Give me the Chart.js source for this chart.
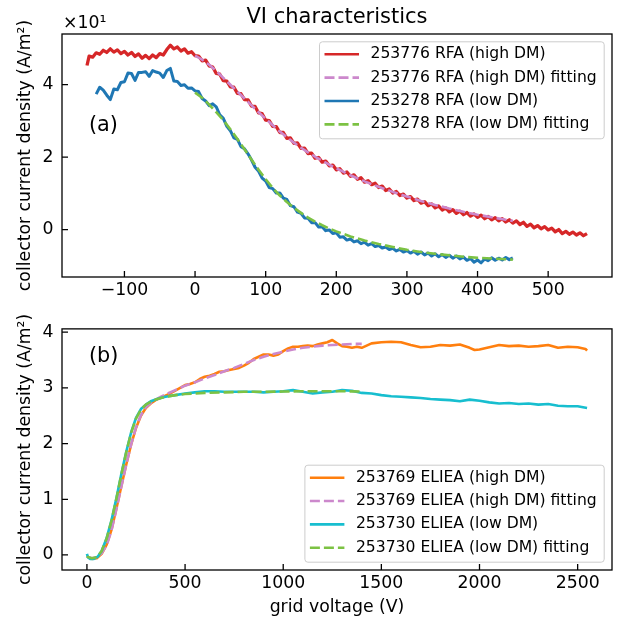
<!DOCTYPE html>
<html>
<head>
<meta charset="utf-8">
<title>VI characteristics</title>
<script src="https://cdn.jsdelivr.net/npm/chart.js@4.4.0/dist/chart.umd.min.js"></script>
<style>
  html, body { margin: 0; padding: 0; background: #fff; }
  #wrap { position: relative; width: 620px; height: 622px; }
  .panel { position: absolute; left: 0; width: 620px; }
  #top { top: 0; height: 310px; }
  #bottom { top: 310px; height: 312px; }
</style>
</head>
<body>
<div id="wrap">
  <div class="panel" id="top"><canvas id="rfa" width="620" height="310"></canvas></div>
  <div class="panel" id="bottom"><canvas id="eliea" width="620" height="312"></canvas></div>
</div>
<script>
// (a) RFA, current density in A/m^2 (axis shows it x10^1)
const rfaHighX = [-153, -150, -145, -140, -135, -130, -125, -120, -115, -110, -105, -100, -95, -90, -85, -80, -75, -70, -65, -60, -55, -50, -45, -40, -35, -30, -25, -20, -15, -10, -5,
  0, 5, 10, 15, 20, 25, 30, 35, 40, 45, 50, 55, 60, 65, 70, 75, 80, 85, 90, 95, 100, 105, 110, 115, 120, 125, 130, 135, 140, 145, 150, 155, 160, 165, 170, 175, 180, 185, 190, 195,
  200, 205, 210, 215, 220, 225, 230, 235, 240, 245, 250, 255, 260, 265, 270, 275, 280, 285, 290, 295, 300, 305, 310, 315, 320, 325, 330, 335, 340, 345, 350, 355, 360, 365, 370, 375,
  380, 385, 390, 395, 400, 405, 410, 415, 420, 425, 430, 435, 440, 445, 450, 455, 460, 465, 470, 475, 480, 485, 490, 495, 500, 505, 510, 515, 520, 525, 530, 535, 540, 545, 550, 555];
const rfaHighY = [45.3, 47.9, 47.6, 48.8, 48.4, 49.5, 48.9, 49.9, 49.0, 49.6, 48.6, 49.2, 48.2, 48.9, 47.8, 48.5, 47.3, 48.1, 47.2, 48.2, 47.5, 48.6, 48.2, 49.7, 50.9, 49.9, 50.4, 49.3, 49.9, 48.7, 49.1,
  48.0, 47.9, 46.6, 46.8, 45.2, 44.9, 43.1, 42.9, 41.1, 41.0, 39.4, 39.3, 37.6, 37.5, 35.9, 35.8, 34.1, 34.0, 32.2, 32.0, 30.2, 30.1, 28.5, 28.4, 26.8, 26.8, 25.2, 25.3, 23.8, 23.9, 22.4, 22.5, 21.0, 21.1, 19.7, 19.9, 18.6, 18.9, 17.6, 17.8,
  16.5, 16.8, 15.6, 15.9, 14.7, 15.1, 13.9, 14.3, 13.1, 13.5, 12.4, 12.8, 11.6, 12.0, 10.8, 11.2, 10.1, 10.5, 9.4, 9.8, 8.7, 9.1, 8.0, 8.4, 7.3, 7.7, 6.6, 7.1, 6.0, 6.5, 5.4, 6.0, 4.9, 5.5, 4.5, 5.1,
  4.1, 4.7, 3.7, 4.3, 3.4, 4.0, 3.0, 3.6, 2.7, 3.3, 2.4, 3.0, 2.1, 2.7, 1.8, 2.4, 1.4, 2.0, 0.9, 1.5, 0.5, 1.1, 0.2, 0.8, -0.1, 0.4, -0.6, 0.0, -1.1, -0.5, -1.3, -0.7, -1.5, -0.9, -1.7, -1.1];

const rfaHighFitX = [0, 10, 20, 30, 40, 50, 60, 70, 80, 90, 100, 110, 120, 130, 140, 150, 160, 170, 180, 190, 200, 220, 240, 260, 280, 300, 320, 340, 360, 380, 400, 420, 440, 450];
const rfaHighFitY = [48.0, 46.9, 45.5, 43.8, 41.9, 40.0, 38.1, 36.2, 34.3, 32.4, 30.6, 28.8, 27.1, 25.5, 24.0, 22.6, 21.3, 20.1, 19.0, 17.9, 16.9, 15.0, 13.3, 11.8, 10.4, 9.1, 7.9, 6.8, 5.8, 4.9, 4.1, 3.4, 2.7, 2.4];

const rfaLowX = [-140, -135, -130, -125, -120, -115, -110, -105, -100, -95, -90, -85, -80, -75, -70, -65, -60, -55, -50, -45, -40, -35, -30, -25, -20, -15, -10, -5,
  0, 5, 10, 15, 20, 25, 30, 35, 40, 45, 50, 55, 60, 65, 70, 75, 80, 85, 90, 95, 100, 105, 110, 115, 120, 125, 130, 135, 140, 145, 150, 155, 160, 165, 170, 175, 180, 185, 190, 195,
  200, 205, 210, 215, 220, 225, 230, 235, 240, 245, 250, 255, 260, 265, 270, 275, 280, 285, 290, 295, 300, 305, 310, 315, 320, 325, 330, 335, 340, 345, 350, 355, 360, 365, 370, 375,
  380, 385, 390, 395, 400, 405, 410, 415, 420, 425, 430, 435, 440, 445, 450];
const rfaLowY = [37.4, 39.3, 38.5, 37.1, 35.9, 38.8, 38.6, 40.6, 40.8, 43.2, 43.1, 41.2, 43.4, 43.4, 43.6, 42.3, 43.9, 43.5, 43.2, 42.0, 43.9, 44.5, 41.0, 40.9, 39.8, 40.0, 39.0, 39.1,
  38.3, 38.1, 36.2, 35.5, 34.2, 34.7, 33.9, 31.7, 30.7, 28.5, 27.3, 25.3, 24.9, 22.9, 22.3, 20.9, 19.2, 17.2, 16.1, 14.2, 13.4, 11.6, 11.3, 10.1, 10.1, 8.7, 8.3, 6.6, 6.3, 4.8, 4.5, 3.2, 3.1, 1.9, 1.9, 0.7, 0.8, -0.3, -0.1, -1.1,
  -0.9, -2.1, -2.0, -2.9, -2.6, -3.4, -3.1, -3.9, -3.5, -4.3, -3.9, -4.7, -4.4, -5.1, -4.8, -5.5, -5.2, -5.9, -5.5, -6.2, -5.8, -6.5, -6.0, -6.8, -6.2, -7.0, -6.5, -7.3, -6.7, -7.5, -6.9, -7.7, -7.1, -7.9, -7.3, -8.1,
  -7.6, -8.5, -8.0, -9.0, -8.4, -9.2, -8.1, -8.6, -7.8, -8.5, -7.9, -8.4, -7.7, -8.3, -7.8];

const rfaLowFitX = [0, 10, 20, 30, 40, 50, 60, 70, 80, 90, 100, 110, 120, 130, 140, 150, 160, 170, 180, 190, 200, 220, 240, 260, 280, 300, 320, 340, 360, 380, 400, 420, 450];
const rfaLowFitY = [37.8, 36.4, 34.5, 32.4, 30.2, 27.7, 25.0, 22.2, 19.3, 16.5, 13.9, 11.5, 9.4, 7.6, 6.0, 4.6, 3.3, 2.2, 1.2, 0.3, -0.5, -1.9, -3.0, -4.0, -4.8, -5.6, -6.2, -6.7, -7.1, -7.5, -7.8, -8.0, -8.3];

// (b) ELIEA, current density in A/m^2
const elieaHighX = [0, 10, 25, 50, 75, 100, 125, 150, 175, 200, 225, 250, 275, 300, 325, 350, 375, 400, 425, 450, 475, 500, 525, 550, 575, 600, 625, 650, 675, 700, 725, 750, 775, 800, 825, 850, 875, 900, 925, 950, 975,
  1000, 1025, 1050, 1075, 1100, 1125, 1150, 1175, 1200, 1225, 1250, 1275, 1300, 1325, 1350, 1375, 1400, 1425, 1450, 1500, 1550, 1600, 1650, 1700, 1750, 1800, 1850, 1900, 1950, 1975,
  2000, 2050, 2100, 2150, 2200, 2250, 2300, 2350, 2400, 2450, 2500, 2540, 2548];
const elieaHighY = [-0.02, -0.05, -0.07, -0.06, 0.02, 0.18, 0.45, 0.83, 1.23, 1.62, 1.98, 2.28, 2.5, 2.64, 2.72, 2.78, 2.82, 2.86, 2.9, 2.95, 3.0, 3.05, 3.07, 3.1, 3.16, 3.2, 3.22, 3.25, 3.29, 3.3, 3.32, 3.34, 3.36, 3.4, 3.45, 3.52, 3.56, 3.6, 3.6, 3.58, 3.6,
  3.66, 3.71, 3.74, 3.74, 3.75, 3.76, 3.75, 3.78, 3.8, 3.82, 3.86, 3.8, 3.75, 3.74, 3.72, 3.74, 3.72, 3.76, 3.8, 3.82, 3.83, 3.82, 3.77, 3.73, 3.74, 3.77, 3.76, 3.78, 3.72, 3.68,
  3.69, 3.73, 3.77, 3.75, 3.76, 3.74, 3.75, 3.77, 3.72, 3.74, 3.73, 3.7, 3.67];

const elieaHighFitX = [0, 25, 50, 75, 100, 125, 150, 175, 200, 225, 250, 275, 300, 325, 350, 375, 400, 450, 500, 550, 600, 650, 700, 750, 800, 850, 900, 950, 1000, 1050, 1100, 1150, 1200, 1250, 1300, 1350, 1400];
const elieaHighFitY = [-0.03, -0.06, -0.04, 0.03, 0.17, 0.44, 0.82, 1.22, 1.62, 1.98, 2.29, 2.51, 2.65, 2.73, 2.79, 2.84, 2.88, 2.96, 3.04, 3.1, 3.17, 3.23, 3.3, 3.36, 3.43, 3.5, 3.56, 3.61, 3.65, 3.69, 3.72, 3.74, 3.76, 3.77, 3.78, 3.79, 3.79];

const elieaLowX = [0, 5, 15, 35, 55, 75, 100, 125, 150, 175, 200, 225, 250, 275, 300, 325, 350, 375, 400, 450, 500, 550, 600, 650, 700, 750, 800, 850, 900, 950,
  1000, 1050, 1100, 1150, 1200, 1250, 1300, 1350, 1400, 1450, 1500, 1550, 1600, 1650, 1700, 1750, 1800, 1850, 1900, 1950,
  2000, 2050, 2100, 2150, 2200, 2250, 2300, 2350, 2400, 2450, 2500, 2548];
const elieaLowY = [0.02, -0.04, -0.07, -0.07, -0.03, 0.07, 0.3, 0.62, 1.02, 1.45, 1.85, 2.2, 2.46, 2.62, 2.7, 2.76, 2.79, 2.82, 2.84, 2.87, 2.9, 2.92, 2.94, 2.94, 2.93, 2.93, 2.93, 2.93, 2.92, 2.93,
  2.94, 2.96, 2.93, 2.9, 2.92, 2.93, 2.96, 2.95, 2.91, 2.9, 2.87, 2.85, 2.84, 2.83, 2.82, 2.8, 2.79, 2.78, 2.76, 2.79,
  2.77, 2.74, 2.72, 2.73, 2.71, 2.72, 2.7, 2.71, 2.68, 2.67, 2.67, 2.64];

const elieaLowFitX = [0, 25, 50, 75, 100, 125, 150, 175, 200, 225, 250, 275, 300, 325, 350, 400, 450, 500, 600, 700, 800, 900, 1000, 1100, 1200, 1300, 1400];
const elieaLowFitY = [-0.03, -0.06, -0.04, 0.07, 0.29, 0.61, 1.01, 1.44, 1.84, 2.19, 2.45, 2.61, 2.7, 2.75, 2.79, 2.84, 2.87, 2.89, 2.91, 2.92, 2.93, 2.93, 2.935, 2.94, 2.94, 2.94, 2.935];

const rfaXTicks = [-100, 0, 100, 200, 300, 400, 500];
const rfaYTicks = [0, 20, 40];
const elieaXTicks = [0, 500, 1000, 1500, 2000, 2500];
const elieaYTicks = [0, 1, 2, 3, 4];

const rfaLabels = ["253776 RFA (high DM)", "253776 RFA (high DM) fitting", "253278 RFA (low DM)", "253278 RFA (low DM) fitting"];
const elieaLabels = ["253769 ELIEA (high DM)", "253769 ELIEA (high DM) fitting", "253730 ELIEA (low DM)", "253730 ELIEA (low DM) fitting"];

const FONT = "DejaVu Sans";
const tickFont = { family: FONT, size: 17.3 };

function pts(xs, ys) {
  return xs.map((x, i) => ({ x: x, y: ys[i] }));
}

function line(label, xs, ys, color, dashed, order, width) {
  return {
    label: label,
    data: pts(xs, ys),
    borderColor: color,
    backgroundColor: color,
    borderWidth: width || 2.6,
    borderDash: dashed ? [10, 4] : [],
    borderJoinStyle: "round",
    pointRadius: 0,
    showLine: true,
    fill: false,
    tension: 0,
    order: order,
  };
}

function minus(v) {
  return v < 0 ? "\u2212" + Math.abs(v) : String(v);
}

function axes(xRange, yRange, xTicks, yTicks, yFmt, xHeight, xTitle) {
  return {
    x: {
      type: "linear",
      min: xRange[0],
      max: xRange[1],
      afterBuildTicks: (s) => { s.ticks = xTicks.map((v) => ({ value: v })); },
      afterFit: (s) => { s.height = xHeight; },
      grid: { display: false, drawTicks: false },
      border: { display: false },
      ticks: { color: "#000", font: tickFont, padding: 3.5, maxRotation: 0, autoSkip: false, callback: minus },
      title: xTitle
        ? { display: true, text: xTitle, color: "#000", font: tickFont, padding: { top: 0, bottom: 4.5 } }
        : { display: false },
    },
    y: {
      type: "linear",
      min: yRange[0],
      max: yRange[1],
      afterBuildTicks: (s) => { s.ticks = yTicks.map((v) => ({ value: v })); },
      afterFit: (s) => { s.width = 62; },
      grid: { display: false, drawTicks: false },
      border: { display: false },
      ticks: { color: "#000", font: tickFont, padding: 8.5, autoSkip: false, callback: yFmt },
      title: { display: true, text: "collector current density (A/m\u00b2)", color: "#000", font: tickFont, padding: { top: 15.6, bottom: 0 } },
    },
  };
}

// frame, inward ticks, panel label, legend and extra texts
const decor = {
  id: "decor",
  afterDraw(chart, args, o) {
    const ctx = chart.ctx;
    const a = chart.chartArea;
    const xs = chart.scales.x;
    const ys = chart.scales.y;
    ctx.save();

    ctx.strokeStyle = "#000";
    ctx.lineWidth = 1.3;
    ctx.beginPath();
    xs.ticks.forEach((t) => {
      const p = xs.getPixelForValue(t.value);
      ctx.moveTo(p, a.bottom);
      ctx.lineTo(p, a.bottom - 6);
    });
    ys.ticks.forEach((t) => {
      const p = ys.getPixelForValue(t.value);
      ctx.moveTo(a.left, p);
      ctx.lineTo(a.left + 6, p);
    });
    ctx.stroke();
    ctx.strokeRect(a.left, a.top, a.right - a.left, a.bottom - a.top);

    ctx.fillStyle = "#000";
    ctx.textBaseline = "alphabetic";
    ctx.textAlign = "left";
    ctx.font = "20.8px '" + FONT + "'";
    ctx.fillText(o.panel, 89, o.panelY);

    if (o.title) {
      ctx.textAlign = "center";
      ctx.font = "21px '" + FONT + "'";
      ctx.fillText(o.title, (a.left + a.right) / 2, 23);
    }
    if (o.offset) {
      ctx.textAlign = "left";
      ctx.font = "17.3px '" + FONT + "'";
      ctx.fillText(o.offset, 63, 28);
    }

    // legend
    const sets = chart.data.datasets;
    ctx.font = "15.6px '" + FONT + "'";
    const textW = Math.max(...sets.map((d) => ctx.measureText(d.label).width));
    const w = 51 + textW + 7.5;
    const h = 97;
    const right = a.right - 7.8;
    const left = right - w;
    const top = o.legendAt === "top" ? a.top + 7.8 : a.bottom - 7.8 - h;
    ctx.beginPath();
    if (ctx.roundRect) ctx.roundRect(left, top, w, h, 3);
    else ctx.rect(left, top, w, h);
    ctx.fillStyle = "rgba(255,255,255,0.8)";
    ctx.fill();
    ctx.strokeStyle = "#cccccc";
    ctx.lineWidth = 1;
    ctx.stroke();
    sets.forEach((d, i) => {
      const y = top + 12.5 + i * 23.35;
      ctx.strokeStyle = d.borderColor;
      ctx.lineWidth = 2.6;
      ctx.setLineDash(d.borderDash);
      ctx.beginPath();
      ctx.moveTo(left + 5, y);
      ctx.lineTo(left + 39.5, y);
      ctx.stroke();
      ctx.setLineDash([]);
      ctx.fillStyle = "#000";
      ctx.textAlign = "left";
      ctx.textBaseline = "middle";
      ctx.fillText(d.label, left + 51, y);
    });
    ctx.restore();
  },
};

const commonOpts = {
  responsive: false,
  animation: false,
  devicePixelRatio: 1,
  plugins: { legend: { display: false }, tooltip: { enabled: false }, title: { display: false } },
};

new Chart(document.getElementById("rfa"), {
  type: "scatter",
  data: {
    datasets: [
      line(rfaLabels[0], rfaHighX, rfaHighY, "#d62728", false, 4, 3.3),
      line(rfaLabels[1], rfaHighFitX, rfaHighFitY, "#cc88cc", true, 3),
      line(rfaLabels[2], rfaLowX, rfaLowY, "#1f77b4", false, 2, 3.0),
      line(rfaLabels[3], rfaLowFitX, rfaLowFitY, "#7cc243", true, 1),
    ],
  },
  options: Object.assign({}, commonOpts, {
    layout: { padding: { top: 34, right: 8, left: 0, bottom: 0 } },
    scales: axes([-188.4, 590.4], [-13.1, 54.0], rfaXTicks, rfaYTicks, (v) => String(v / 10), 33, null),
    plugins: Object.assign({}, commonOpts.plugins, {
      decor: { panel: "(a)", panelY: 130.5, title: "VI characteristics", offset: "\u00d710\u00b9", legendAt: "top" },
    }),
  }),
  plugins: [decor],
});

new Chart(document.getElementById("eliea"), {
  type: "scatter",
  data: {
    datasets: [
      line(elieaLabels[0], elieaHighX, elieaHighY, "#ff7f0e", false, 4),
      line(elieaLabels[1], elieaHighFitX, elieaHighFitY, "#cc88cc", true, 3),
      line(elieaLabels[2], elieaLowX, elieaLowY, "#17becf", false, 2),
      line(elieaLabels[3], elieaLowFitX, elieaLowFitY, "#7cc243", true, 1),
    ],
  },
  options: Object.assign({}, commonOpts, {
    layout: { padding: { top: 15, right: 8, left: 0, bottom: 0 } },
    scales: axes([-127, 2675], [-0.27, 4.06], elieaXTicks, elieaYTicks, (v) => String(v), 52, "grid voltage (V)"),
    plugins: Object.assign({}, commonOpts.plugins, {
      decor: { panel: "(b)", panelY: 52, title: null, offset: null, legendAt: "bottom" },
    }),
  }),
  plugins: [decor],
});
</script>
</body>
</html>
